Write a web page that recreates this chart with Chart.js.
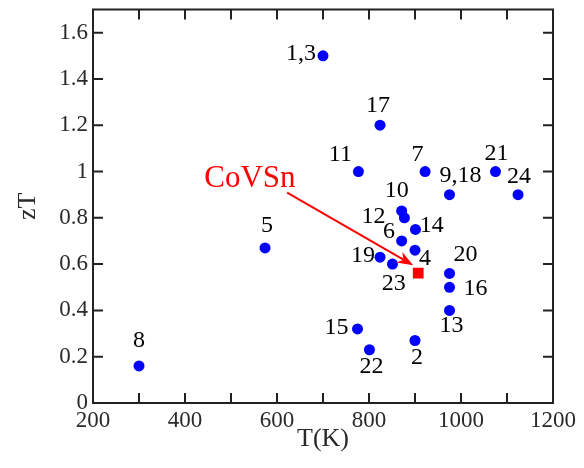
<!DOCTYPE html>
<html>
<head>
<meta charset="utf-8">
<script src="https://cdn.jsdelivr.net/npm/chart.js@4/dist/chart.umd.min.js"></script>
<style>
html,body{margin:0;padding:0;background:#fff;}
#wrap{width:584px;height:468px;position:relative;}
</style>
</head>
<body>
<div id="wrap"><canvas id="c"></canvas></div>
<script>
// ---- data ----
const pointLabels = ["1,3","2","4","5","6","7","8","9,18","10","11","12","13","14","15","16","17","19","20","21","22","23","24"];
const temperatures = [700, 900, 900, 574, 871, 922, 300, 975, 871, 777, 877, 975, 901, 775, 975, 824, 824, 975, 1075, 801, 851, 1124];
const ztValues     = [1.50, 0.27, 0.66, 0.67, 0.70, 1.00, 0.16, 0.90, 0.83, 1.00, 0.80, 0.40, 0.75, 0.32, 0.50, 1.20, 0.63, 0.56, 1.00, 0.23, 0.60, 0.90];
const coVSnName = "CoVSn";
const coVSnT = [907];
const coVSnZT = [0.561];
const arrowFrom = [622, 0.909];   // data coordinates (T, zT)
const arrowTo = [896, 0.595];
const coVSnTextAt = [541, 0.932];
const xTicks = [200, 400, 600, 800, 1000, 1200];
const yTicks = [0, 0.2, 0.4, 0.6, 0.8, 1, 1.2, 1.4, 1.6];

// ---- label placement (style, not data) ----
const labelPlacement = {
  "1,3": ["right", -7, -2], "2": ["center", 2, 17.6], "4": ["left", 4, 8.7], "5": ["center", 2, -22.6],
  "6": ["right", -6.7, -9], "7": ["center", -7.5, -17], "8": ["center", 0, -25], "9,18": ["left", -10, -19],
  "10": ["center", -5, -20.6], "11": ["right", -6.5, -17], "12": ["right", -19, -1.6], "13": ["center", 2, 15.7],
  "14": ["left", 4.3, -3.5], "15": ["right", -9, -1], "16": ["left", 14, 1.3], "17": ["center", -2, -20],
  "19": ["right", -5, -1.5], "20": ["left", 4, -18.3], "21": ["center", 1, -18], "22": ["center", 2, 16.7],
  "23": ["center", 1.3, 19.5], "24": ["center", 1, -18]
};

const SERIF = "'Liberation Serif', 'DejaVu Serif', serif";

const framePlugin = {
  id: 'frameTicks',
  afterDatasetsDraw(chart) {
    const {ctx, chartArea: a, scales: {x, y}} = chart;
    ctx.save();
    ctx.strokeStyle = '#222';
    ctx.lineWidth = 2;
    ctx.strokeRect(a.left, a.top, a.right - a.left, a.bottom - a.top);
    const L = 10;
    ctx.beginPath();
    x.ticks.forEach(t => {
      const px = x.getPixelForValue(t.value);
      if (px <= a.left + 1 || px >= a.right - 1) return;
      ctx.moveTo(px, a.bottom); ctx.lineTo(px, a.bottom - L);
      ctx.moveTo(px, a.top); ctx.lineTo(px, a.top + L);
    });
    y.ticks.forEach(t => {
      const py = y.getPixelForValue(t.value);
      if (py >= a.bottom - 1 || py <= a.top + 1) return;
      ctx.moveTo(a.left, py); ctx.lineTo(a.left + L, py);
      ctx.moveTo(a.right, py); ctx.lineTo(a.right - L, py);
    });
    ctx.stroke();
    ctx.restore();
  },
  afterDraw(chart) {
    const {ctx, scales: {x, y}} = chart;
    ctx.save();
    // point labels
    ctx.fillStyle = '#000';
    ctx.font = '24px ' + SERIF;
    ctx.textBaseline = 'middle';
    pointLabels.forEach((lab, i) => {
      const p = labelPlacement[lab] || ["center", 0, -20];
      const px = x.getPixelForValue(temperatures[i]);
      const py = y.getPixelForValue(ztValues[i]);
      ctx.textAlign = p[0];
      ctx.fillText(lab, px + p[1], py + p[2]);
    });
    // arrow
    const x1 = x.getPixelForValue(arrowFrom[0]), y1 = y.getPixelForValue(arrowFrom[1]);
    const x2 = x.getPixelForValue(arrowTo[0]), y2 = y.getPixelForValue(arrowTo[1]);
    const ang = Math.atan2(y2 - y1, x2 - x1);
    const hl = 16, hw = 6;
    ctx.strokeStyle = '#ff0000';
    ctx.fillStyle = '#ff0000';
    ctx.lineWidth = 2;
    ctx.beginPath();
    ctx.moveTo(x1, y1);
    ctx.lineTo(x2 - Math.cos(ang) * hl * 0.7, y2 - Math.sin(ang) * hl * 0.7);
    ctx.stroke();
    ctx.beginPath();
    ctx.moveTo(x2, y2);
    ctx.lineTo(x2 - Math.cos(ang) * hl - Math.sin(ang) * hw, y2 - Math.sin(ang) * hl + Math.cos(ang) * hw);
    ctx.lineTo(x2 - Math.cos(ang) * hl * 0.7, y2 - Math.sin(ang) * hl * 0.7);
    ctx.lineTo(x2 - Math.cos(ang) * hl + Math.sin(ang) * hw, y2 - Math.sin(ang) * hl - Math.cos(ang) * hw);
    ctx.closePath();
    ctx.fill();
    // CoVSn text
    ctx.font = '31px ' + SERIF;
    ctx.textAlign = 'center';
    ctx.textBaseline = 'alphabetic';
    ctx.fillText(coVSnName, x.getPixelForValue(coVSnTextAt[0]), y.getPixelForValue(coVSnTextAt[1]));
    ctx.restore();
  }
};

new Chart(document.getElementById('c'), {
  type: 'scatter',
  data: {
    datasets: [
      {
        label: 'compounds',
        data: temperatures.map((t, i) => ({x: t, y: ztValues[i]})),
        backgroundColor: '#0000ff',
        borderColor: '#0000ff',
        borderWidth: 0,
        pointRadius: 5.5,
        pointHoverRadius: 5.5
      },
      {
        label: coVSnName,
        data: coVSnT.map((t, i) => ({x: t, y: coVSnZT[i]})),
        backgroundColor: '#ff0000',
        borderColor: '#ff0000',
        borderWidth: 0,
        pointStyle: 'rect',
        pointRadius: 7.6,
        pointHoverRadius: 7.6
      }
    ]
  },
  options: {
    responsive: true,
    maintainAspectRatio: false,
    animation: false,
    events: [],
    layout: { padding: { left: 0, right: 31, top: 9.5, bottom: 0 } },
    plugins: { legend: { display: false }, tooltip: { enabled: false } },
    scales: {
      x: {
        type: 'linear',
        min: 200, max: 1200,
        grid: { display: false, drawTicks: false },
        border: { display: false },
        ticks: {
          stepSize: 100,
          autoSkip: false,
          maxRotation: 0,
          padding: 4,
          color: '#2a2a2a',
          font: { family: SERIF, size: 23 },
          callback: (v) => xTicks.includes(v) ? String(v) : ''
        },
        title: { display: true, text: 'T(K)', color: '#2a2a2a', font: { family: SERIF, size: 26 }, padding: { top: 0, bottom: 13 } },
        afterFit: (s) => { s.height = 65; s.paddingLeft = 0; s.paddingRight = 0; }
      },
      y: {
        type: 'linear',
        min: 0, max: 1.7,
        grid: { display: false, drawTicks: false },
        border: { display: false },
        ticks: {
          stepSize: 0.2,
          includeBounds: false,
          padding: 5,
          color: '#2a2a2a',
          font: { family: SERIF, size: 23 },
          callback: (v) => { const r = Math.round(v * 10) / 10; return yTicks.includes(r) ? String(r) : ''; }
        },
        title: { display: true, text: 'zT', color: '#2a2a2a', font: { family: SERIF, size: 26 }, padding: { top: 12.4, bottom: 0 } },
        afterFit: (s) => { s.width = 93; s.paddingTop = 0; s.paddingBottom = 0; }
      }
    }
  },
  plugins: [framePlugin]
});
</script>
</body>
</html>
